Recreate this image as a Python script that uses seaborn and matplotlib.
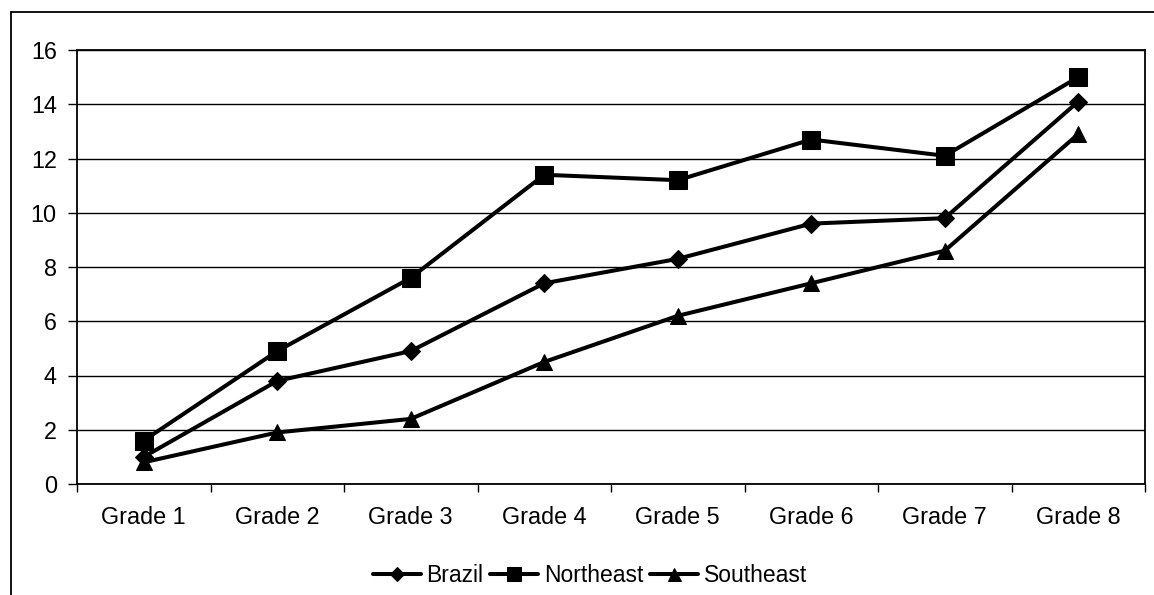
import matplotlib
matplotlib.use("Agg")
import matplotlib.pyplot as plt
from matplotlib.lines import Line2D
from matplotlib.ticker import FixedLocator
import seaborn as sns
import pandas as pd

grades = ["Grade 1", "Grade 2", "Grade 3", "Grade 4",
          "Grade 5", "Grade 6", "Grade 7", "Grade 8"]
brazil = [1.0, 3.8, 4.9, 7.4, 8.3, 9.6, 9.8, 14.1]
northeast = [1.6, 4.9, 7.6, 11.4, 11.2, 12.7, 12.1, 15.0]
southeast = [0.8, 1.9, 2.4, 4.5, 6.2, 7.4, 8.6, 12.9]
regions = ["Brazil", "Northeast", "Southeast"]
y_ticks = [0, 2, 4, 6, 8, 10, 12, 14, 16]

df = pd.DataFrame({
    "grade": grades * 3,
    "value": brazil + northeast + southeast,
    "region": [r for r in regions for _ in grades],
})

sns.set_theme(style="white")
plt.rcParams["font.family"] = ["Liberation Sans", "DejaVu Sans"]

fig = plt.figure(figsize=(11.54, 5.95), dpi=100)
ax = fig.add_axes([77 / 1154, 1 - 484 / 595, (1145 - 77) / 1154, (484 - 50) / 595])

markers = {"Brazil": "D", "Northeast": "s", "Southeast": "^"}
sizes = {"Brazil": 9, "Northeast": 13, "Southeast": 12}
for reg in regions:
    sub = df[df["region"] == reg]
    sns.lineplot(data=sub, x="grade", y="value", ax=ax, color="black",
                 linewidth=2.9, marker=markers[reg], markersize=sizes[reg],
                 markeredgecolor="black", markerfacecolor="black",
                 label=reg, sort=False)

ax.set_xlim(-0.5, len(grades) - 0.5)
ax.set_ylim(0, 16)
ax.set_yticks(y_ticks)
ax.set_xticks(range(len(grades)))
ax.set_xticklabels(grades)
ax.xaxis.set_minor_locator(FixedLocator([i - 0.5 for i in range(len(grades) + 1)]))
ax.set_xlabel("")
ax.set_ylabel("")

ax.grid(axis="y", color="black", linewidth=1.0)
ax.grid(axis="x", visible=False)
ax.set_axisbelow(True)
for s in ax.spines.values():
    s.set_visible(True)
    s.set_color("black")
    s.set_linewidth(1.3)

ax.tick_params(axis="y", which="major", left=True, length=6.5, width=1.0,
               color="black", direction="out", pad=8, labelsize=16.8,
               labelcolor="black")
ax.tick_params(axis="x", which="major", bottom=False, length=0, pad=15.5,
               labelsize=16.8, labelcolor="black")
ax.tick_params(axis="x", which="minor", bottom=True, length=6, width=1.0,
               color="black", direction="out")

leg = ax.legend(loc="center", bbox_to_anchor=(590 / 1154, 1 - 576 / 595),
                bbox_transform=fig.transFigure, ncol=3, frameon=False,
                fontsize=16.5, handlelength=2.1, handletextpad=0.25,
                columnspacing=0.3, borderpad=0, borderaxespad=0,
                markerscale=0.78)
for t in leg.get_texts():
    t.set_color("black")

# outer chart frame
fig.add_artist(Line2D([10.5 / 1154, 10.5 / 1154], [0, 1 - 11.5 / 595],
                      transform=fig.transFigure, color="black", linewidth=1.3))
fig.add_artist(Line2D([10.5 / 1154, 1], [1 - 11.5 / 595, 1 - 11.5 / 595],
                      transform=fig.transFigure, color="black", linewidth=1.3))

fig.savefig("out.png", dpi=100, facecolor="white")
